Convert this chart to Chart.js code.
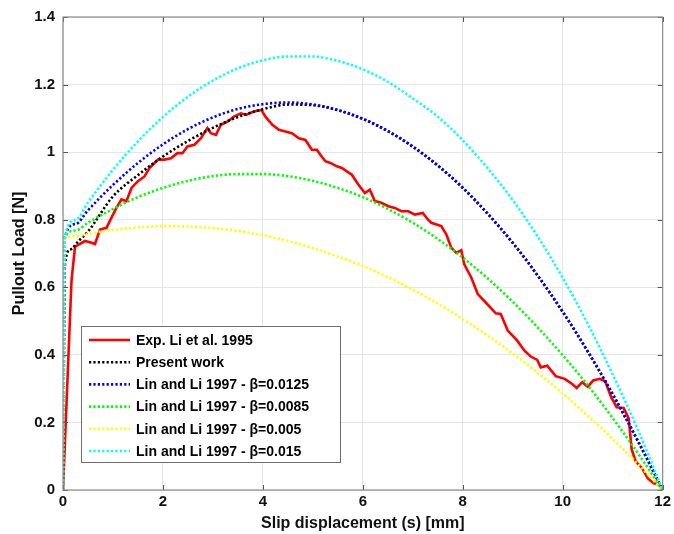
<!DOCTYPE html>
<html>
<head>
<meta charset="utf-8">
<script src="https://cdn.jsdelivr.net/npm/chart.js@4.4.1/dist/chart.umd.min.js"></script>
<style>
html,body{margin:0;padding:0;background:#fff;}
#wrap{width:674px;height:534px;}
</style>
</head>
<body>
<div id="wrap"><canvas id="c" width="674" height="534"></canvas></div>
<script>
// ---- tick labels ----
const xTickLabels = ['0','2','4','6','8','10','12'];
const yTickLabels = ['0','0.2','0.4','0.6','0.8','1','1.2','1.4'];

// ---- series labels ----
const seriesLabels = [
  'Exp. Li et al. 1995',
  'Present work',
  'Lin and Li 1997 - \u03B2=0.0125',
  'Lin and Li 1997 - \u03B2=0.0085',
  'Lin and Li 1997 - \u03B2=0.005',
  'Lin and Li 1997 - \u03B2=0.015'
];

// ---- experimental curve (Li et al. 1995) ----
const expX = [0,0.17,0.24,0.44,0.57,0.64,0.74,0.87,1.0,1.07,1.17,1.27,1.37,1.5,1.63,1.73,1.9,2.03,2.16,2.29,2.39,2.49,2.63,2.76,2.89,2.96,3.06,3.16,3.29,3.42,3.56,3.66,3.82,3.97,4.05,4.19,4.32,4.45,4.58,4.72,4.85,4.98,5.08,5.15,5.25,5.35,5.48,5.58,5.68,5.78,5.91,6.04,6.14,6.24,6.37,6.51,6.64,6.77,6.91,7.04,7.2,7.3,7.37,7.57,7.67,7.77,7.87,7.97,8.03,8.17,8.3,8.46,8.66,8.76,8.9,9.09,9.23,9.36,9.49,9.56,9.69,9.86,10.04,10.19,10.28,10.39,10.5,10.61,10.74,10.85,10.97,11.08,11.22,11.32,11.38,11.46,11.58,11.7,11.82,11.92,12];
const expY = [0,0.62,0.72,0.737,0.732,0.728,0.771,0.776,0.815,0.835,0.86,0.855,0.894,0.914,0.928,0.953,0.978,0.978,0.982,0.997,0.997,1.017,1.022,1.041,1.071,1.056,1.051,1.081,1.09,1.105,1.115,1.11,1.12,1.125,1.105,1.081,1.066,1.061,1.056,1.041,1.036,1.007,1.007,0.992,0.973,0.968,0.958,0.953,0.943,0.933,0.904,0.879,0.889,0.855,0.85,0.84,0.835,0.825,0.825,0.815,0.82,0.801,0.791,0.781,0.757,0.717,0.702,0.71,0.668,0.629,0.58,0.555,0.523,0.521,0.472,0.442,0.413,0.395,0.385,0.363,0.368,0.337,0.329,0.314,0.302,0.319,0.306,0.324,0.329,0.322,0.275,0.245,0.243,0.212,0.12,0.085,0.066,0.035,0.02,0.016,0];

// ---- present work ----
const presentX = [0,0.04,0.15,0.3,0.5,1,1.5,2,2.5,3,3.5,4,4.5,5,5.5,6,6.5,7,7.5,8,8.5,9,9.5,10,10.5,11,11.5,12];
const presentY = [0,0.668,0.712,0.735,0.765,0.869,0.932,0.987,1.033,1.072,1.104,1.127,1.141,1.139,1.124,1.098,1.062,1.016,0.960,0.894,0.817,0.731,0.634,0.527,0.410,0.283,0.146,0];

// ---- Lin and Li 1997 curves ----
const linX = [0,0.03,0.25,0.5,1,1.5,2,2.5,3,3.5,4,4.5,5,5.5,6,6.5,7,7.5,8,8.5,9,9.5,10,10.5,11,11.5,12];
const linB0125 = [0,0.743,0.787,0.828,0.903,0.968,1.023,1.068,1.103,1.128,1.142,1.147,1.141,1.125,1.099,1.063,1.017,0.961,0.895,0.818,0.732,0.635,0.528,0.411,0.284,0.147,0];
const linB0085 = [0,0.743,0.768,0.791,0.832,0.867,0.894,0.915,0.929,0.935,0.935,0.929,0.915,0.894,0.867,0.832,0.791,0.743,0.688,0.626,0.557,0.481,0.399,0.310,0.213,0.110,0];
const linB005  = [0,0.743,0.751,0.758,0.770,0.777,0.781,0.780,0.775,0.767,0.754,0.737,0.716,0.691,0.663,0.630,0.593,0.552,0.506,0.457,0.404,0.347,0.286,0.220,0.151,0.077,0];
const linB015  = [0,0.743,0.799,0.851,0.948,1.032,1.104,1.164,1.212,1.248,1.272,1.283,1.283,1.270,1.245,1.208,1.159,1.105,1.035,0.952,0.858,0.750,0.628,0.492,0.342,0.180,0];

const pts = (xs, ys) => xs.map((x, i) => ({x: x, y: ys[i]}));

const FONT = "'Liberation Sans', Arial, Helvetica, sans-serif";
const dot = [2.2, 2.2];

function dotted(label, xs, ys, color, order) {
  return {
    label: label, data: pts(xs, ys), showLine: true, borderColor: color, backgroundColor: color,
    borderWidth: 2.6, borderDash: dot, pointRadius: 0, fill: false,
    cubicInterpolationMode: 'monotone', order: order
  };
}

const datasets = [
  { label: seriesLabels[0], data: pts(expX, expY), showLine: true, borderColor: '#ff0000', backgroundColor: '#ff0000',
    borderWidth: 2.6, pointRadius: 0, fill: false, tension: 0, order: 6 },
  dotted(seriesLabels[1], presentX, presentY, '#000000', 5),
  dotted(seriesLabels[2], linX, linB0125, '#0000ff', 4),
  dotted(seriesLabels[3], linX, linB0085, '#00ff00', 3),
  dotted(seriesLabels[4], linX, linB005, '#ffff00', 2),
  dotted(seriesLabels[5], linX, linB015, '#00ffff', 1)
];

const framePlugin = {
  id: 'frame',
  afterDraw(chart) {
    const ctx = chart.ctx;
    const a = chart.chartArea;
    const xs = chart.scales.x, ys = chart.scales.y;
    ctx.save();
    // inward tick marks (MATLAB style)
    ctx.strokeStyle = '#555';
    ctx.lineWidth = 1;
    ctx.setLineDash([]);
    const tl = 5;
    xs.ticks.forEach(t => {
      const px = Math.round(xs.getPixelForValue(t.value)) + 0.5;
      ctx.beginPath();
      ctx.moveTo(px, a.bottom); ctx.lineTo(px, a.bottom - tl);
      ctx.moveTo(px, a.top); ctx.lineTo(px, a.top + tl);
      ctx.stroke();
    });
    ys.ticks.forEach(t => {
      const py = Math.round(ys.getPixelForValue(t.value)) + 0.5;
      ctx.beginPath();
      ctx.moveTo(a.left, py); ctx.lineTo(a.left + tl, py);
      ctx.moveTo(a.right, py); ctx.lineTo(a.right - tl, py);
      ctx.stroke();
    });
    // axes box
    ctx.strokeStyle = '#8a8a8a';
    ctx.lineWidth = 1.2;
    ctx.strokeRect(a.left, a.top, a.right - a.left, a.bottom - a.top);

    // legend box
    const lx = 81, ly = 326, lw = 259, lh = 136;
    ctx.fillStyle = '#ffffff';
    ctx.fillRect(lx, ly, lw, lh);
    ctx.strokeStyle = '#6e6e6e';
    ctx.lineWidth = 1;
    ctx.strokeRect(lx + 0.5, ly + 0.5, lw, lh);
    ctx.font = 'bold 14px ' + FONT;
    ctx.textBaseline = 'middle';
    ctx.textAlign = 'left';
    const ds = chart.data.datasets;
    for (let i = 0; i < ds.length; i++) {
      const y = 340 + i * 22.2;
      ctx.beginPath();
      ctx.strokeStyle = ds[i].borderColor;
      ctx.lineWidth = ds[i].borderWidth;
      ctx.setLineDash(ds[i].borderDash || []);
      ctx.moveTo(89, y); ctx.lineTo(130, y);
      ctx.stroke();
      ctx.setLineDash([]);
      ctx.fillStyle = '#000';
      ctx.fillText(ds[i].label, 136, y + 1);
    }
    ctx.restore();
  }
};

new Chart(document.getElementById('c'), {
  type: 'scatter',
  data: { datasets: datasets },
  plugins: [framePlugin],
  options: {
    responsive: false,
    devicePixelRatio: 1,
    animation: false,
    layout: { padding: { top: 15, right: 8, left: 0, bottom: 0 } },
    plugins: { legend: { display: false }, tooltip: { enabled: false } },
    scales: {
      x: {
        type: 'linear', min: 0, max: 12,
        ticks: {
          stepSize: 2, padding: 3, color: '#111',
          font: { family: FONT, size: 15, weight: 'bold' },
          callback: (v, i) => xTickLabels[i]
        },
        grid: { color: '#e6e6e6', drawTicks: false },
        border: { display: false },
        title: { display: true, text: 'Slip displacement (s) [mm]', color: '#111',
                 font: { family: FONT, size: 16, weight: 'bold' }, padding: { top: 0, bottom: 1 } },
        afterFit: s => { s.height = 44; }
      },
      y: {
        type: 'linear', min: 0, max: 1.4,
        ticks: {
          stepSize: 0.2, padding: 8, color: '#111',
          font: { family: FONT, size: 15, weight: 'bold' },
          callback: (v, i) => yTickLabels[i]
        },
        grid: { color: '#e6e6e6', drawTicks: false },
        border: { display: false },
        title: { display: true, text: 'Pullout Load [N]', color: '#111',
                 font: { family: FONT, size: 16, weight: 'bold' }, padding: { top: 10, bottom: 0 } },
        afterFit: s => { s.width = 63; }
      }
    }
  }
});
</script>
</body>
</html>
